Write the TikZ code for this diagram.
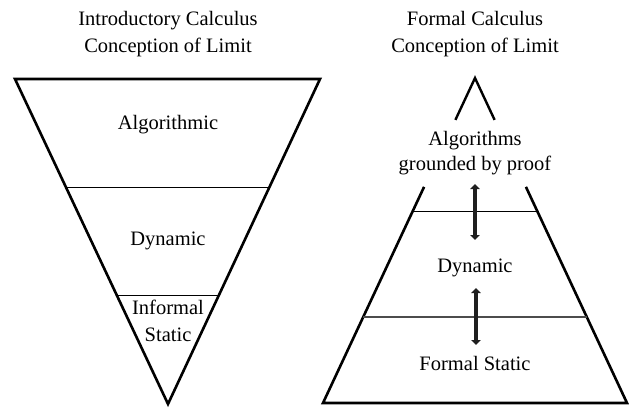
\documentclass[tikz,border=0pt]{standalone}
\usepackage{fontspec}
\setmainfont{Liberation Serif}
\usetikzlibrary{arrows.meta,calc}
\begin{document}
\begin{tikzpicture}[x=1pt,y=-1pt,font=\fontsize{20.5}{27}\selectfont]
    \useasboundingbox (0,0) rectangle (629,407);

    % introductory calculus, inverted triangle
    \coordinate (L1) at (15,79);
    \coordinate (L2) at (320,79);
    \coordinate (L3) at (168,404);
    \draw[line width=2.6pt] (L1) -- (L2) -- (L3) -- cycle;
    \draw[line width=1.3pt] ($(L1)!0.3345!(L3)$) -- ($(L2)!0.3345!(L3)$);
    \draw[line width=1.3pt] ($(L1)!0.6668!(L3)$) -- ($(L2)!0.6668!(L3)$);

    \node[align=center] (introtitle) at (168,34) {Introductory Calculus\\Conception of Limit};
    \node (algo) at (168,125) {Algorithmic};
    \node (dynL) at (168,241) {Dynamic};
    \node[align=center] (infstatic) at (168,321) {Informal\\Static};

    % formal calculus, triangle with a gap
    \coordinate (R0) at (475,78);
    \coordinate (R1) at (323,403);
    \coordinate (R2) at (627,403);
    \draw[line width=2.4pt] ($(R0)!0.129!(R1)$) -- (R0) -- ($(R0)!0.129!(R2)$);
    \draw[line width=2.6pt] ($(R0)!0.335!(R1)$) -- (R1) -- (R2) -- ($(R0)!0.335!(R2)$);
    \draw[line width=1.3pt] ($(R0)!0.411!(R1)$) -- ($(R0)!0.411!(R2)$);
    \draw[line width=1.3pt,black!70] ($(R0)!0.735!(R1)$) -- ($(R0)!0.735!(R2)$);

    \node[align=center] (formtitle) at (475,34) {Formal Calculus\\Conception of Limit};
    \node[align=center] (algproof) at (475,153) {Algorithms\\[-2pt]grounded by proof};
    \node (dynR) at (475,268) {Dynamic};
    \node (fstatic) at (475,363) {Formal Static};

    \coordinate (a1) at (475,184);
    \coordinate (a2) at (475,240);
    \coordinate (a3) at (476,288);
    \coordinate (a4) at (476,345);
    \draw[line width=3.6pt,black!88,{Triangle[width=9.5pt,length=5pt]}-{Triangle[width=9.5pt,length=5pt]}] (a1) -- (a2);
    \draw[line width=3.6pt,black!88,{Triangle[width=9.5pt,length=5pt]}-{Triangle[width=9.5pt,length=5pt]}] (a3) -- (a4);
\end{tikzpicture}
\end{document}
